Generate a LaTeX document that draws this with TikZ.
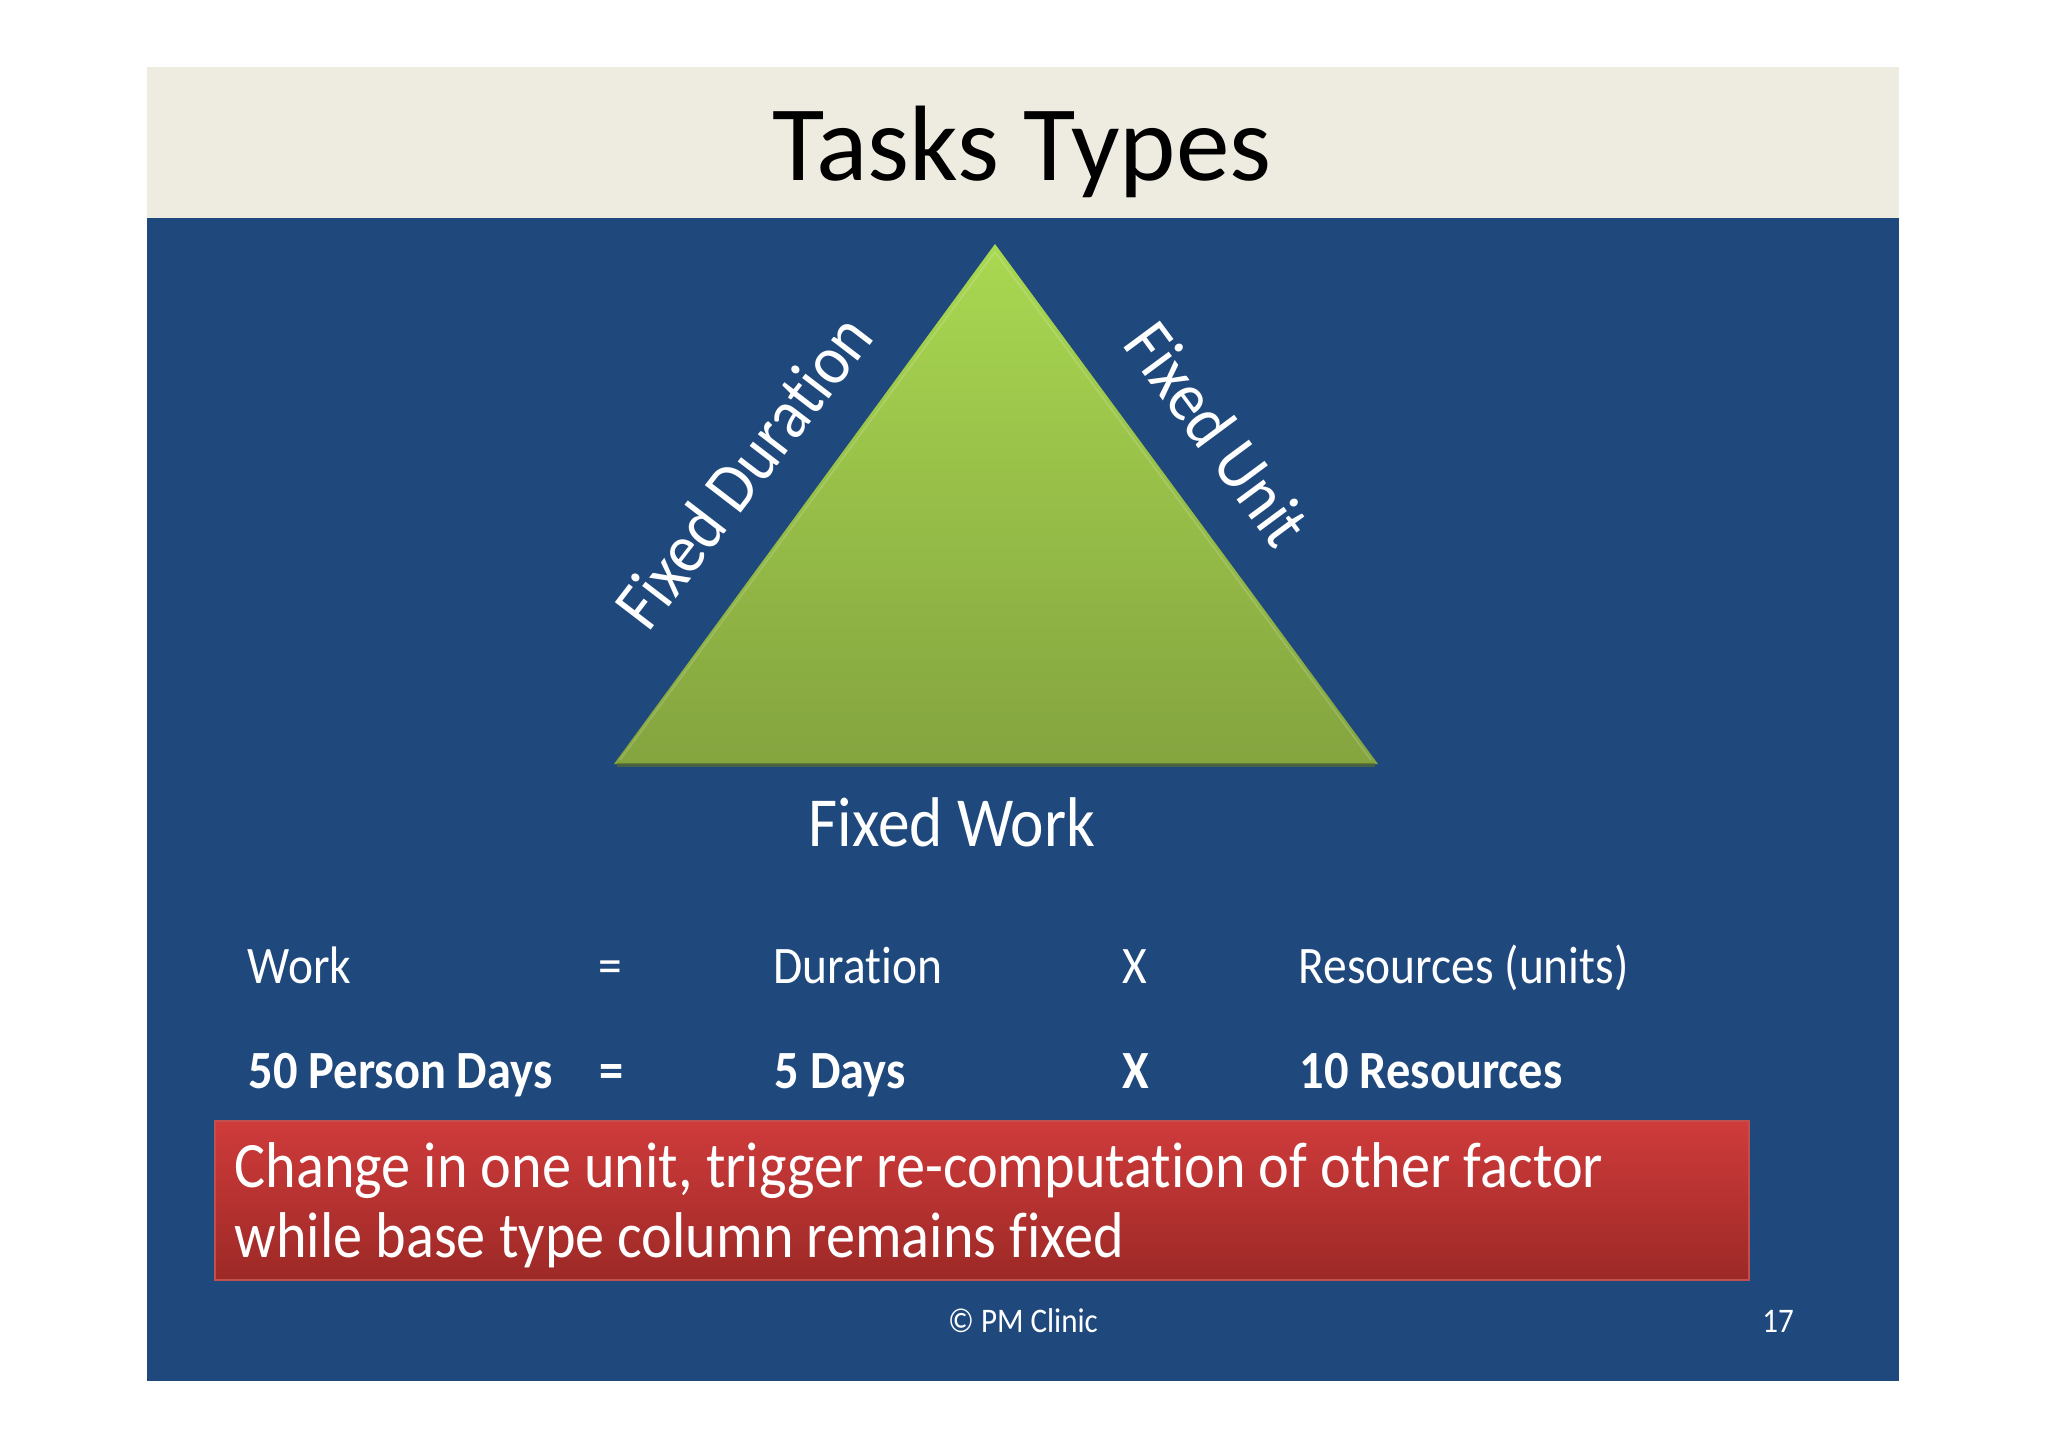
\documentclass[tikz,border=0pt]{standalone}
\usepackage{fontspec}
\setmainfont{Carlito}[Ligatures=NoCommon,FakeStretch=0.9]
\newfontfamily\titlefont{Carlito}[Ligatures=NoCommon]

\definecolor{slideblue}{HTML}{1F497D}
\definecolor{bandgrey}{HTML}{EEECE1}
\definecolor{greentop}{HTML}{A9D851}
\definecolor{greenbot}{HTML}{84A43F}
\definecolor{redtop}{HTML}{CF3B3B}
\definecolor{redbot}{HTML}{9C2926}
\definecolor{redline}{HTML}{C0504D}

\begin{document}
\begin{tikzpicture}[x=0.01cm,y=-0.01cm,
        label text/.style={text=white,font=\fontsize{20}{24}\selectfont,inner sep=0pt},
        row text/.style={text=white,font=\fontsize{15}{18}\selectfont,anchor=base west,inner sep=0pt},
        row bold/.style={row text,font=\fontsize{15.3}{18}\selectfont\bfseries},
        red text/.style={text=white,anchor=base west,inner sep=0pt,font=\fontsize{18.4}{20}\selectfont},
        foot text/.style={text=white,font=\fontsize{9.8}{12}\selectfont,anchor=base,inner sep=0pt}]
        \useasboundingbox (0,0) rectangle (2048,1448);
        \fill[white] (0,0) rectangle (2048,1448);
        \fill[slideblue] (147,67) rectangle (1899,1381);
        \fill[bandgrey] (147,67) rectangle (1899,218);
        \node[anchor=base,inner sep=0pt,font=\titlefont\fontsize{30.5}{36}\selectfont] (title) at (1022,180) {Tasks Types};

        \shade[top color=greentop,bottom color=greenbot] (995,244) -- (1378,764) -- (614,764) -- cycle;
        \draw[greenbot!65!black,line width=1.2pt,opacity=0.7] (617,765) -- (1375,765);
        \draw[white,line width=0.5pt,opacity=0.15] (620,760) -- (995,252) -- (1371,760);
        \node[label text,rotate=52.5] (duration) at (743,471) {Fixed Duration};
        \node[label text,rotate=-53.5] (unit) at (1218,434) {Fixed Unit};
        \node[label text,anchor=base] (work) at (952,846) {Fixed Work};

        \node[row text] (r1a) at (247,983) {Work};
        \node[row text] (r1b) at (598,983) {=};
        \node[row text] (r1c) at (773,983) {Duration};
        \node[row text] (r1d) at (1122,983) {X};
        \node[row text] (r1e) at (1298,983) {Resources (units)};
        \node[row bold] (r2a) at (248,1088) {50 Person Days};
        \node[row bold] (r2b) at (599,1088) {=};
        \node[row bold] (r2c) at (774,1088) {5 Days};
        \node[row bold] (r2d) at (1122,1088) {X};
        \node[row bold] (r2e) at (1299,1088) {10 Resources};

        \shade[top color=redtop,bottom color=redbot,draw=redline,line width=0.6pt] (215,1121) rectangle (1749,1280);
        \node[red text] (change) at (234,1187) {Change in one unit, trigger re-computation of other factor};
        \node[red text] (fixed) at (234,1257) {while base type column remains fixed};

        \node[foot text] (clinic) at (1023,1332) {© PM Clinic};
        \node[foot text] (page) at (1778,1332) {17};
    \end{tikzpicture}
\end{document}
